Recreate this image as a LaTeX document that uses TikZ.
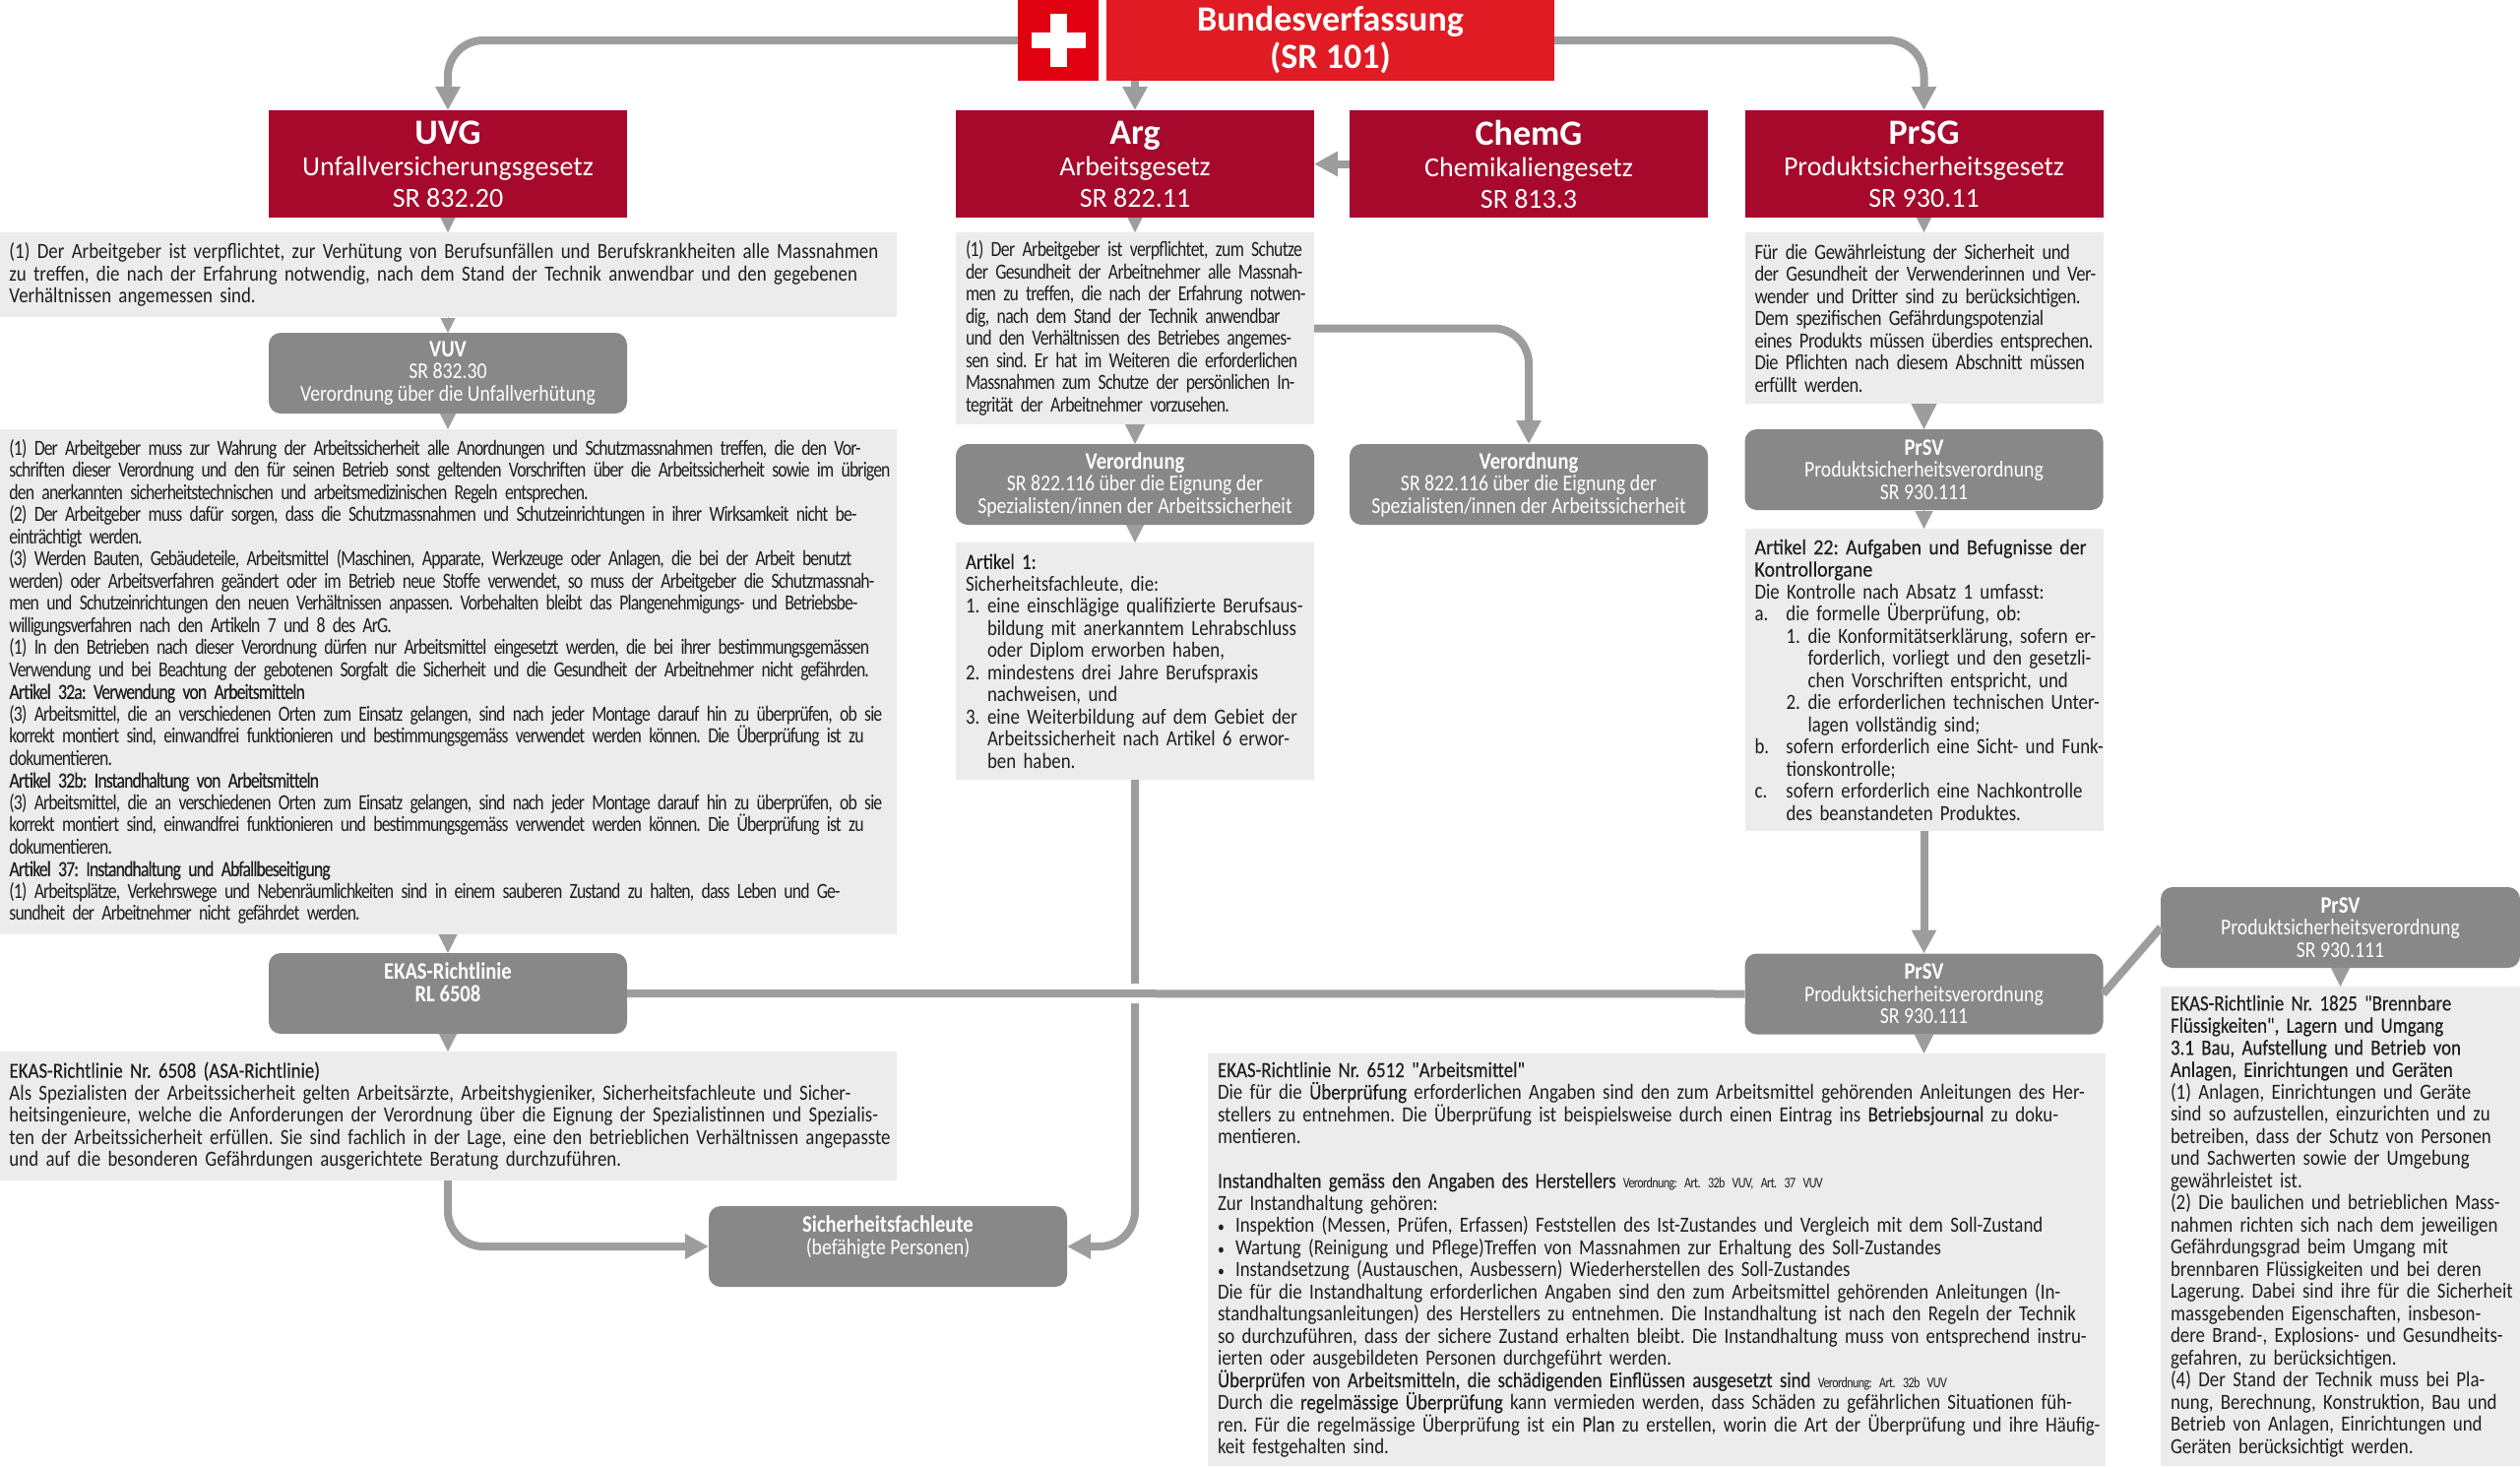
\documentclass[tikz,border=0pt]{standalone}
\usepackage{fontspec}
\usepackage{xcolor}
\usetikzlibrary{positioning,arrows.meta}

\setmainfont[FakeStretch=0.858]{Carlito}
\newfontfamily\titlefont{Carlito}
\newfontfamily\tightfont[FakeStretch=0.805,LetterSpace=-4]{Carlito}
\newfontfamily\tighthead[FakeStretch=0.805,LetterSpace=-4,FakeBold=0.25]{Carlito}
\newfontfamily\midfont[FakeStretch=0.805,LetterSpace=-3]{Carlito}
\newfontfamily\snugfont[FakeStretch=0.845,LetterSpace=-2]{Carlito}
\newfontfamily\loosehead[FakeStretch=0.905,FakeBold=0.25]{Carlito}
\newfontfamily\headfont[FakeStretch=0.858,FakeBold=0.25]{Carlito}
\newcommand{\hd}[1]{{\headfont #1}}
\newcommand{\lab}[2]{\makebox[#1][l]{#2}}
\newcommand{\bul}{\makebox[9pt][l]{\fontsize{8}{11.25}\selectfont •}}
\newcommand{\smallref}[1]{{\tightfont\fontsize{7.5}{11.25}\selectfont #1}}
\newcommand{\votitle}[1]{{\fontsize{12}{11.25}\selectfont\bfseries #1}}
\newcommand{\lawtitle}[1]{{\fontsize{18}{16}\selectfont\bfseries #1}}

\definecolor{lawred}{HTML}{A6092B}
\definecolor{confred}{HTML}{E11B24}
\definecolor{flagred}{HTML}{E1000F}
\definecolor{nodegray}{HTML}{888888}
\definecolor{boxgray}{HTML}{ECECEC}
\definecolor{connect}{HTML}{9D9D9D}
\definecolor{inktext}{HTML}{1E1E1E}

\begin{document}
\frenchspacing
\begin{tikzpicture}[
    x=0.5pt, y=-0.5pt,
    lawbox/.style={fill=lawred, text=white, align=center, outer sep=0pt, inner sep=0pt,
                   minimum width=182pt, minimum height=54.5pt,
                   font=\titlefont\fontsize{14}{16}\selectfont},
    confbox/.style={fill=confred, text=white, align=center, outer sep=0pt, inner sep=0pt,
                   minimum height=41pt, font=\titlefont\fontsize{18}{19}\selectfont\bfseries},
    vobox/.style={fill=nodegray, rounded corners=6pt, text=white, align=center,
                   outer sep=0pt, inner sep=0pt, minimum width=182pt, minimum height=41pt,
                   font=\fontsize{11.5}{11.25}\selectfont},
    txtbox/.style={fill=boxgray, text=inktext, align=left, outer sep=0pt, inner xsep=5pt,
                   inner ysep=0pt, text width=#1, font=\fontsize{11}{11.25}\selectfont,
                   execute at begin node={\rightskip=-30pt plus 1fil\relax}},
    crossbar/.style={fill=white, outer sep=0pt, inner sep=0pt},
    conn/.style={draw=connect, line width=4pt},
    curved/.style={rounded corners=18pt},
    bigtip/.style={-{Triangle[length=12pt,width=12pt]}},
    stub/.style={draw=connect, line width=0.5pt, -{Triangle[length=#1,width=#1]}},
    stub/.default=7.5pt
]
\useasboundingbox (0,0) rectangle (2560,1489);

% Bundesverfassung
\node[fill=flagred, outer sep=0pt, minimum width=41pt, minimum height=41pt] (flag) at (1075,41) {};
\node[crossbar, minimum width=27.5pt, minimum height=8pt] (crossh) at (flag) {};
\node[crossbar, minimum width=8.5pt, minimum height=27pt] (crossv) at (flag) {};
\node[confbox, minimum width=227.5pt, right=4pt of flag] (bv) {Bundesverfassung\\(SR 101)};

% Gesetze
\node[lawbox] (arg) at (1153,166.5) {\lawtitle{Arg}\\Arbeitsgesetz\\SR 822.11};
\node[lawbox, left=167pt of arg] (uvg) {\lawtitle{UVG}\\Unfallversicherungsgesetz\\SR 832.20};
\node[lawbox, right=18pt of arg] (chem) {\lawtitle{ChemG}\\Chemikaliengesetz\\SR 813.3};
\node[lawbox, right=18.75pt of chem] (prsg) {\lawtitle{PrSG}\\Produktsicherheitsgesetz\\SR 930.11};

% UVG column
\node[txtbox=445.5pt, minimum height=43pt, below=7.5pt of uvg] (uvgtext) {%
(1) Der Arbeitgeber ist verpflichtet, zur Verhütung von Berufsunfällen und Berufskrankheiten alle Massnahmen\\
zu treffen, die nach der Erfahrung notwendig, nach dem Stand der Technik anwendbar und den gegebenen\\
Verhältnissen angemessen sind.};
\node[vobox, below=8pt of uvgtext] (vuv) {\votitle{VUV}\\SR 832.30\\Verordnung über die Unfallverhütung};
\node[txtbox=445.5pt, minimum height=256.5pt, below=8pt of vuv] (vuvtext) {\tightfont
(1) Der Arbeitgeber muss zur Wahrung der Arbeitssicherheit alle Anordnungen und Schutzmassnahmen treffen, die den Vor-\\
schriften dieser Verordnung und den für seinen Betrieb sonst geltenden Vorschriften über die Arbeitssicherheit sowie im übrigen\\
den anerkannten sicherheitstechnischen und arbeitsmedizinischen Regeln entsprechen.\\
(2) Der Arbeitgeber muss dafür sorgen, dass die Schutzmassnahmen und Schutzeinrichtungen in ihrer Wirksamkeit nicht be-\\
einträchtigt werden.\\
(3) Werden Bauten, Gebäudeteile, Arbeitsmittel (Maschinen, Apparate, Werkzeuge oder Anlagen, die bei der Arbeit benutzt\\
werden) oder Arbeitsverfahren geändert oder im Betrieb neue Stoffe verwendet, so muss der Arbeitgeber die Schutzmassnah-\\
men und Schutzeinrichtungen den neuen Verhältnissen anpassen. Vorbehalten bleibt das Plangenehmigungs- und Betriebsbe-\\
willigungsverfahren nach den Artikeln 7 und 8 des ArG.\\
(1) In den Betrieben nach dieser Verordnung dürfen nur Arbeitsmittel eingesetzt werden, die bei ihrer bestimmungsgemässen\\
Verwendung und bei Beachtung der gebotenen Sorgfalt die Sicherheit und die Gesundheit der Arbeitnehmer nicht gefährden.\\
{\tighthead Artikel 32a: Verwendung von Arbeitsmitteln}\\
(3) Arbeitsmittel, die an verschiedenen Orten zum Einsatz gelangen, sind nach jeder Montage darauf hin zu überprüfen, ob sie\\
korrekt montiert sind, einwandfrei funktionieren und bestimmungsgemäss verwendet werden können. Die Überprüfung ist zu\\
dokumentieren.\\
{\tighthead Artikel 32b: Instandhaltung von Arbeitsmitteln}\\
(3) Arbeitsmittel, die an verschiedenen Orten zum Einsatz gelangen, sind nach jeder Montage darauf hin zu überprüfen, ob sie\\
korrekt montiert sind, einwandfrei funktionieren und bestimmungsgemäss verwendet werden können. Die Überprüfung ist zu\\
dokumentieren.\\
{\tighthead Artikel 37: Instandhaltung und Abfallbeseitigung}\\
(1) Arbeitsplätze, Verkehrswege und Nebenräumlichkeiten sind in einem sauberen Zustand zu halten, dass Leben und Ge-\\
sundheit der Arbeitnehmer nicht gefährdet werden.};
\node[vobox, below=9.5pt of vuvtext] (ekas) {\votitle{EKAS-Richtlinie}\\\votitle{RL 6508}\\\mbox{}};
\node[txtbox=445.5pt, minimum height=65.5pt, below=9pt of ekas] (ekastext) {%
\hd{EKAS-Richtlinie Nr. 6508 (ASA-Richtlinie)}\\
Als Spezialisten der Arbeitssicherheit gelten Arbeitsärzte, Arbeitshygieniker, Sicherheitsfachleute und Sicher-\\
heitsingenieure, welche die Anforderungen der Verordnung über die Eignung der Spezialistinnen und Spezialis-\\
ten der Arbeitssicherheit erfüllen. Sie sind fachlich in der Lage, eine den betrieblichen Verhältnissen angepasste\\
und auf die besonderen Gefährdungen ausgerichtete Beratung durchzuführen.};
\node[vobox] (fach) at (902,1266) {\votitle{Sicherheitsfachleute}\\(befähigte Personen)\\\mbox{}};

% Arg column
\node[txtbox=172pt, minimum height=97.5pt, below=7.5pt of arg] (argtext) {\midfont
(1) Der Arbeitgeber ist verpflichtet, zum Schutze\\
der Gesundheit der Arbeitnehmer alle Massnah-\\
men zu treffen, die nach der Erfahrung notwen-\\
dig, nach dem Stand der Technik anwendbar\\
und den Verhältnissen des Betriebes angemes-\\
sen sind. Er hat im Weiteren die erforderlichen\\
Massnahmen zum Schutze der persönlichen In-\\
tegrität der Arbeitnehmer vorzusehen.};
\node[vobox, below=10pt of argtext] (argvo) {\votitle{Verordnung}\\SR 822.116 über die Eignung der\\Spezialisten/innen der Arbeitssicherheit};
\node[txtbox=172pt, minimum height=120.5pt, below=9pt of argvo] (artone) {%
\hd{Artikel 1:}\\
Sicherheitsfachleute, die:\\
\lab{11pt}{1.}eine einschlägige qualifizierte Berufsaus-\\
\hspace*{11pt}bildung mit anerkanntem Lehrabschluss\\
\hspace*{11pt}oder Diplom erworben haben,\\
\lab{11pt}{2.}mindestens drei Jahre Berufspraxis\\
\hspace*{11pt}nachweisen, und\\
\lab{11pt}{3.}eine Weiterbildung auf dem Gebiet der\\
\hspace*{11pt}Arbeitssicherheit nach Artikel 6 erwor-\\
\hspace*{11pt}ben haben.};
\node[vobox] (chemvo) at (chem |- argvo) {\votitle{Verordnung}\\SR 822.116 über die Eignung der\\Spezialisten/innen der Arbeitssicherheit};

% PrSG column
\node[txtbox=172pt, minimum height=87pt, below=7.5pt of prsg] (prsgtext) {\snugfont
Für die Gewährleistung der Sicherheit und\\
der Gesundheit der Verwenderinnen und Ver-\\
wender und Dritter sind zu berücksichtigen.\\
Dem spezifischen Gefährdungspotenzial\\
eines Produkts müssen überdies entsprechen.\\
Die Pflichten nach diesem Abschnitt müssen\\
erfüllt werden.};
\node[vobox, below=13pt of prsgtext] (prsv) {\votitle{PrSV}\\Produktsicherheitsverordnung\\SR 930.111};
\node[txtbox=172pt, minimum height=153.5pt, below=9.5pt of prsv] (artzwei) {%
{\loosehead Artikel 22: Aufgaben und Befugnisse der}\\
{\loosehead Kontrollorgane}\\
Die Kontrolle nach Absatz 1 umfasst:\\
\lab{16pt}{a.}die formelle Überprüfung, ob:\\
\hspace*{16pt}\lab{11pt}{1.}die Konformitätserklärung, sofern er-\\
\hspace*{27pt}forderlich, vorliegt und den gesetzli-\\
\hspace*{27pt}chen Vorschriften entspricht, und\\
\hspace*{16pt}\lab{11pt}{2.}die erforderlichen technischen Unter-\\
\hspace*{27pt}lagen vollständig sind;\\
\lab{16pt}{b.}sofern erforderlich eine Sicht- und Funk-\\
\hspace*{16pt}tionskontrolle;\\
\lab{16pt}{c.}sofern erforderlich eine Nachkontrolle\\
\hspace*{16pt}des beanstandeten Produktes.};
\node[vobox, below=62.25pt of artzwei] (prsvb) {\votitle{PrSV}\\Produktsicherheitsverordnung\\SR 930.111};
\node[txtbox=446pt, minimum height=209.5pt, anchor=north west] (ekasmittel) at (1227,1070) {%
\hd{EKAS-Richtlinie Nr. 6512 "Arbeitsmittel"}\\
Die für die \hd{Überprüfung} erforderlichen Angaben sind den zum Arbeitsmittel gehörenden Anleitungen des Her-\\
stellers zu entnehmen. Die Überprüfung ist beispielsweise durch einen Eintrag ins \hd{Betriebsjournal} zu doku-\\
mentieren.\\
\mbox{}\\
\hd{Instandhalten gemäss den Angaben des Herstellers} \smallref{Verordnung: Art. 32b VUV, Art. 37 VUV}\\
Zur Instandhaltung gehören:\\
\bul Inspektion (Messen, Prüfen, Erfassen) Feststellen des Ist-Zustandes und Vergleich mit dem Soll-Zustand\\
\bul Wartung (Reinigung und Pflege)Treffen von Massnahmen zur Erhaltung des Soll-Zustandes\\
\bul Instandsetzung (Austauschen, Ausbessern) Wiederherstellen des Soll-Zustandes\\
Die für die Instandhaltung erforderlichen Angaben sind den zum Arbeitsmittel gehörenden Anleitungen (In-\\
standhaltungsanleitungen) des Herstellers zu entnehmen. Die Instandhaltung ist nach den Regeln der Technik\\
so durchzuführen, dass der sichere Zustand erhalten bleibt. Die Instandhaltung muss von entsprechend instru-\\
ierten oder ausgebildeten Personen durchgeführt werden.\\
\hd{Überprüfen von Arbeitsmitteln, die schädigenden Einflüssen ausgesetzt sind} \smallref{Verordnung: Art. 32b VUV}\\
Durch die \hd{regelmässige Überprüfung} kann vermieden werden, dass Schäden zu gefährlichen Situationen füh-\\
ren. Für die regelmässige Überprüfung ist ein \hd{Plan} zu erstellen, worin die Art der Überprüfung und ihre Häufig-\\
keit festgehalten sind.};

% PrSV rechts
\node[vobox, minimum width=182.5pt] (prsvc) at (2377.5,942) {\votitle{PrSV}\\Produktsicherheitsverordnung\\SR 930.111};
\node[txtbox=172.5pt, minimum height=243.5pt, below=9.5pt of prsvc] (brenn) {%
\hd{EKAS-Richtlinie Nr. 1825 "Brennbare}\\
\hd{Flüssigkeiten", Lagern und Umgang}\\
\hd{3.1 Bau, Aufstellung und Betrieb von}\\
\hd{Anlagen, Einrichtungen und Geräten}\\
(1) Anlagen, Einrichtungen und Geräte\\
sind so aufzustellen, einzurichten und zu\\
betreiben, dass der Schutz von Personen\\
und Sachwerten sowie der Umgebung\\
gewährleistet ist.\\
(2) Die baulichen und betrieblichen Mass-\\
nahmen richten sich nach dem jeweiligen\\
Gefährdungsgrad beim Umgang mit\\
brennbaren Flüssigkeiten und bei deren\\
Lagerung. Dabei sind ihre für die Sicherheit\\
massgebenden Eigenschaften, insbeson-\\
dere Brand-, Explosions- und Gesundheits-\\
gefahren, zu berücksichtigen.\\
(4) Der Stand der Technik muss bei Pla-\\
nung, Berechnung, Konstruktion, Bau und\\
Betrieb von Anlagen, Einrichtungen und\\
Geräten berücksichtigt werden.};

% Connectors
\draw[conn, curved, bigtip] (flag.west) -| (uvg.north);
\draw[conn, curved, bigtip] (bv.east) -| (prsg.north);
\draw[conn, bigtip] (arg.north |- bv.south) -- (arg.north);
\draw[conn, bigtip] (chem.west) -- (arg.east);
\draw[conn, curved, bigtip] (argtext.east) -| (chemvo.north);
\draw[conn, curved, bigtip] (artone.south) |- (fach.east);
\draw[conn, preaction={draw=white, line width=10pt}] (ekas.east) -- (prsvb.west);
\draw[conn, curved, bigtip] (ekastext.south) |- (fach.west);
\draw[conn, bigtip] (artzwei.south) -- (prsvb.north);
\draw[conn] (prsvb.east) -- (prsvc.west);

% Short arrows between boxes
\draw[stub] (uvg.south) -- (uvgtext.north);
\draw[stub] (uvgtext.south) -- (vuv.north);
\draw[stub=8pt] (vuv.south) -- (vuvtext.north);
\draw[stub=9.5pt] (vuvtext.south) -- (ekas.north);
\draw[stub=9pt] (ekas.south) -- (ekastext.north);
\draw[stub] (arg.south) -- (argtext.north);
\draw[stub=10pt] (argtext.south) -- (argvo.north);
\draw[stub=9pt] (argvo.south) -- (artone.north);
\draw[stub] (prsg.south) -- (prsgtext.north);
\draw[stub=13pt] (prsgtext.south) -- (prsv.north);
\draw[stub=9pt] (prsv.south) -- (artzwei.north);
\draw[stub=10pt] (prsvb.south) -- (prsvb.south |- ekasmittel.north);
\draw[stub=9.5pt] (prsvc.south) -- (brenn.north);

\end{tikzpicture}
\end{document}
